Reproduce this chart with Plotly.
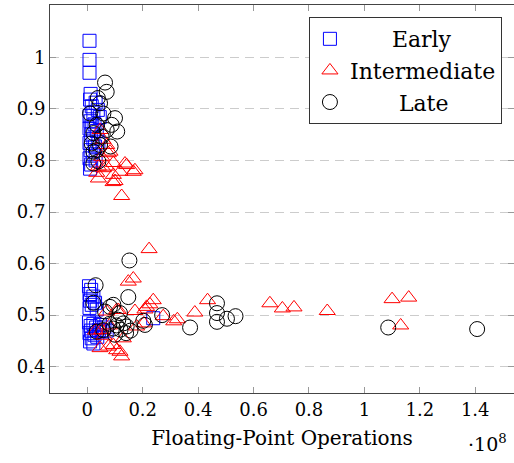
import plotly.graph_objects as go

# FLOPs in units of 1e8, accuracy values
early_x = [0.008, 0.008, 0.008, 0.012, 0.010, 0.030, 0.016, 0.038, 0.022, 0.008, 0.045, 0.012, 0.026, 0.008,
           0.034, 0.014, 0.022, 0.008, 0.028, 0.012, 0.020, 0.008, 0.030, 0.014, 0.010, 0.040, 0.018,
           0.006, 0.014, 0.008, 0.022, 0.010, 0.016, 0.028, 0.008, 0.034, 0.006, 0.012, 0.022, 0.032,
           0.014, 0.042, 0.008, 0.026, 0.052, 0.016, 0.036, 0.010, 0.022, 0.062, 0.046, 0.070, 0.238]
early_y = [1.032, 0.995, 0.970, 0.929, 0.918, 0.912, 0.905, 0.898, 0.893, 0.886, 0.884, 0.876, 0.870, 0.862,
           0.857, 0.850, 0.842, 0.834, 0.827, 0.820, 0.812, 0.804, 0.800, 0.792, 0.784, 0.835, 0.866,
           0.556, 0.549, 0.541, 0.536, 0.528, 0.520, 0.524, 0.514, 0.511, 0.486, 0.479, 0.483, 0.476,
           0.470, 0.471, 0.465, 0.462, 0.468, 0.455, 0.458, 0.449, 0.445, 0.476, 0.481, 0.470, 0.494]

inter_x = [0.040, 0.093, 0.100, 0.124, 0.142, 0.172, 0.166, 0.094, 0.082, 0.070, 0.057, 0.052, 0.040, 0.034,
           0.118, 0.070, 0.046, 0.136, 0.094, 0.058, 0.076,
           0.223, 0.166, 0.148, 0.238, 0.226, 0.214, 0.208, 0.172, 0.274, 0.312, 0.325, 0.388, 0.434,
           0.204, 0.130, 0.106, 0.076, 0.124, 0.112, 0.070, 0.106, 0.118, 0.046, 0.094, 0.178, 0.052,
           0.659, 0.704, 0.746, 0.866, 1.100, 1.160, 1.131, 0.030, 0.060, 0.080]
inter_y = [0.765, 0.758, 0.760, 0.731, 0.791, 0.781, 0.778, 0.795, 0.817, 0.830, 0.840, 0.807, 0.788, 0.776,
           0.778, 0.788, 0.859, 0.794, 0.772, 0.785, 0.814,
           0.628, 0.571, 0.565, 0.529, 0.521, 0.516, 0.511, 0.508, 0.498, 0.488, 0.492, 0.505, 0.529,
           0.484, 0.455, 0.432, 0.439, 0.420, 0.510, 0.507, 0.510, 0.429, 0.436, 0.442, 0.478, 0.471,
           0.523, 0.513, 0.515, 0.508, 0.531, 0.534, 0.480, 0.470, 0.460, 0.480]

late_x = [0.064, 0.070, 0.038, 0.046, 0.010, 0.058, 0.100, 0.088, 0.108, 0.070, 0.034, 0.022, 0.016, 0.034,
          0.084, 0.022, 0.052, 0.046, 0.040, 0.022,
          0.152, 0.030, 0.148, 0.022, 0.094, 0.082, 0.064, 0.118, 0.112, 0.130, 0.142, 0.094, 0.120,
          0.058, 0.034, 0.100, 0.140, 0.156, 0.202, 0.208, 0.270, 0.371, 0.468, 0.468, 0.468, 0.504,
          0.535, 1.086, 1.407, 0.080, 0.106]
late_y = [0.951, 0.933, 0.921, 0.911, 0.891, 0.891, 0.882, 0.869, 0.856, 0.859, 0.869, 0.853, 0.833, 0.820,
          0.827, 0.794, 0.846, 0.830, 0.798, 0.817,
          0.606, 0.558, 0.535, 0.524, 0.520, 0.516, 0.507, 0.504, 0.491, 0.484, 0.478, 0.474, 0.472,
          0.471, 0.468, 0.462, 0.465, 0.470, 0.489, 0.481, 0.500, 0.476, 0.523, 0.504, 0.487, 0.493,
          0.498, 0.476, 0.473, 0.483, 0.480]

x_ticks = [0, 0.2, 0.4, 0.6, 0.8, 1.0, 1.2, 1.4]
x_tick_text = ["0", "0.2", "0.4", "0.6", "0.8", "1", "1.2", "1.4"]
y_ticks = [0.4, 0.5, 0.6, 0.7, 0.8, 0.9, 1.0]
y_tick_text = ["0.4", "0.5", "0.6", "0.7", "0.8", "0.9", "1"]

FONT = "DejaVu Serif"
NB = "\u00a0"

fig = go.Figure()
fig.add_trace(go.Scatter(x=early_x, y=early_y, mode="markers", name=NB * 6 + "Early",
                         marker=dict(symbol="square-open", size=13, color="#0000ff",
                                     line=dict(width=1, color="#0000ff"))))
fig.add_trace(go.Scatter(x=inter_x, y=inter_y, mode="markers", name="Intermediate",
                         marker=dict(symbol="triangle-up-open", size=14, color="#ff0000",
                                     line=dict(width=1, color="#ff0000"))))
fig.add_trace(go.Scatter(x=late_x, y=late_y, mode="markers", name=NB * 7 + "Late",
                         marker=dict(symbol="circle-open", size=15, color="#000000",
                                     line=dict(width=1, color="#000000"))))

fig.update_layout(
    width=514, height=463,
    margin=dict(l=50, r=0, t=5, b=70),
    paper_bgcolor="white", plot_bgcolor="white",
    font=dict(family=FONT, size=18, color="black"),
    xaxis=dict(range=[-0.1346, 1.54], tickvals=x_ticks, ticktext=x_tick_text,
               showgrid=False, zeroline=False, showline=True, linecolor="#444", linewidth=1,
               mirror="allticks", ticks="inside", ticklen=6, tickcolor="#999",
               tickfont=dict(family=FONT, size=18),
               title=dict(text="Floating-Point Operations", font=dict(family=FONT, size=20), standoff=12)),
    yaxis=dict(range=[0.349, 1.1014], tickvals=y_ticks, ticktext=y_tick_text,
               showgrid=True, gridcolor="#cccccc", griddash="9px,6px", gridwidth=1,
               zeroline=False, showline=True, linecolor="#444", linewidth=1,
               mirror="allticks", ticks="inside", ticklen=6, tickcolor="#999",
               tickfont=dict(family=FONT, size=18)),
    legend=dict(x=0.974, y=0.969, xanchor="right", yanchor="top",
                bordercolor="#333", borderwidth=1, bgcolor="white",
                font=dict(family=FONT, size=22), itemwidth=30, tracegroupgap=0),
    annotations=[dict(text="·10<sup>8</sup>", xref="paper", yref="paper", x=0.99, y=-0.13,
                      xanchor="right", yanchor="middle", showarrow=False,
                      font=dict(family=FONT, size=19))],
)

fig.write_html("out.html", config={"displayModeBar": False},
               post_script="document.body.style.margin='0';")
